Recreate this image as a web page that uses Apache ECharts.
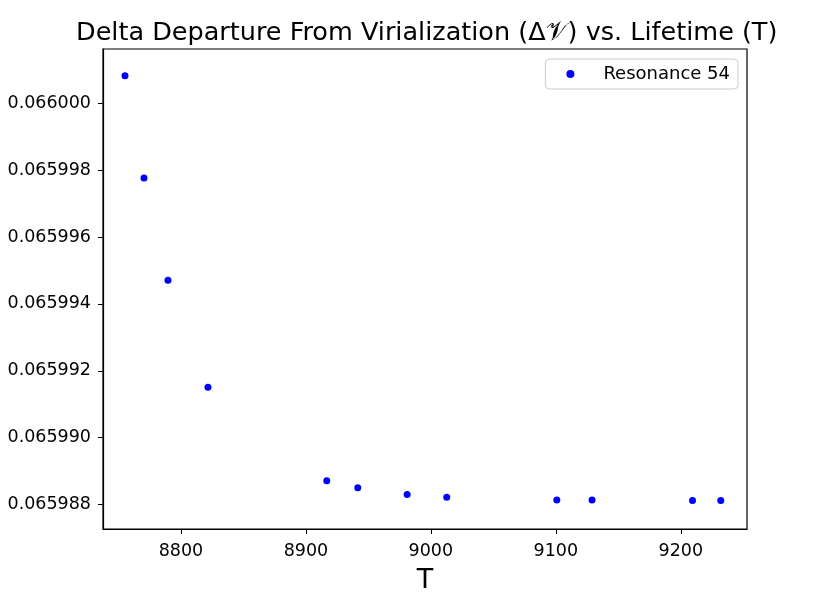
<!DOCTYPE html>
<html>
<head>
<meta charset="utf-8">
<script src="https://cdn.jsdelivr.net/npm/echarts@6/dist/echarts.min.js"></script>
<style>
  html, body { margin: 0; padding: 0; background: #fff; }
  #main { width: 831px; height: 602px; }
</style>
</head>
<body>
<div id="main"></div>
<script>
// Resonance 54: lifetime T vs. delta departure from virialization
var lifetimes = [8755.2, 8770.4, 8789.6, 8821.6, 8916.7, 8941.5, 8981.0, 9012.7, 9100.8, 9129.0, 9209.4, 9232.0];
var deltaV = [0.06600082, 0.06599776, 0.06599471, 0.06599151, 0.06598871, 0.06598850,
              0.06598830, 0.06598822, 0.06598814, 0.06598814, 0.06598812, 0.06598812];
var seriesName = 'Resonance 54';

var points = lifetimes.map(function (t, i) { return [t, deltaV[i]]; });

var myChart = echarts.init(document.getElementById('main'));
var font = 'DejaVu Sans';
var option = {
    animation : false,
    backgroundColor : '#fff',
    title : {
	text : 'Delta Departure From Virialization (\u0394\uD835\uDCB1) vs. Lifetime (T)',
	left : 71,
	top : 15,
	textStyle : { fontFamily : font, fontSize : 25.5, fontWeight : 'normal', color : '#000' }
    },
    legend : {
	right : 93,
	top : 59,
	data : [ seriesName ],
	icon : 'circle',
	itemWidth : 8,
	itemHeight : 8,
	padding : [ 6, 8, 6, 21 ],
	borderColor : '#ccc',
	borderWidth : 1,
	borderRadius : 4,
	textStyle : { fontFamily : font, fontSize : 18, color : '#000', padding : [ 0, 0, 0, 24 ] }
    },
    grid : {
	left : 103,
	right : 84,
	top : 49,
	bottom : 73,
	show : true,
	borderColor : '#000',
	borderWidth : 1.2
    },
    xAxis : {
	type : 'value',
	min : 8737.6,
	max : 9253,
	splitNumber : 5,
	name : 'T',
	nameLocation : 'middle',
	nameGap : 38,
	nameTextStyle : { fontFamily : font, fontSize : 27, color : '#000' },
	axisLine : { lineStyle : { color : '#000', width : 1.2 } },
	axisTick : { inside : false, length : 5, lineStyle : { color : '#000' } },
	axisLabel : {
	    showMinLabel : false, showMaxLabel : false,
	    fontFamily : font, fontSize : 17.5, color : '#000', margin : 13,
	    formatter : function (v) { return String(Math.round(v)); }
	},
	splitLine : { show : false }
    },
    yAxis : {
	type : 'value',
	min : 0.06598727,
	max : 0.06600162,
	splitNumber : 7,
	axisLine : { lineStyle : { color : '#000', width : 1.2 } },
	axisTick : { inside : false, length : 5, lineStyle : { color : '#000' } },
	axisLabel : {
	    showMinLabel : false, showMaxLabel : false,
	    fontFamily : font, fontSize : 17.5, color : '#000', margin : 12,
	    formatter : function (v) { return v.toFixed(6); }
	},
	splitLine : { show : false }
    },
    series : [ {
	name : seriesName,
	type : 'scatter',
	symbol : 'circle',
	symbolSize : 7,
	itemStyle : { color : '#0000ff', opacity : 1 },
	data : points
    } ]
};
myChart.setOption(option);
</script>
</body>
</html>
